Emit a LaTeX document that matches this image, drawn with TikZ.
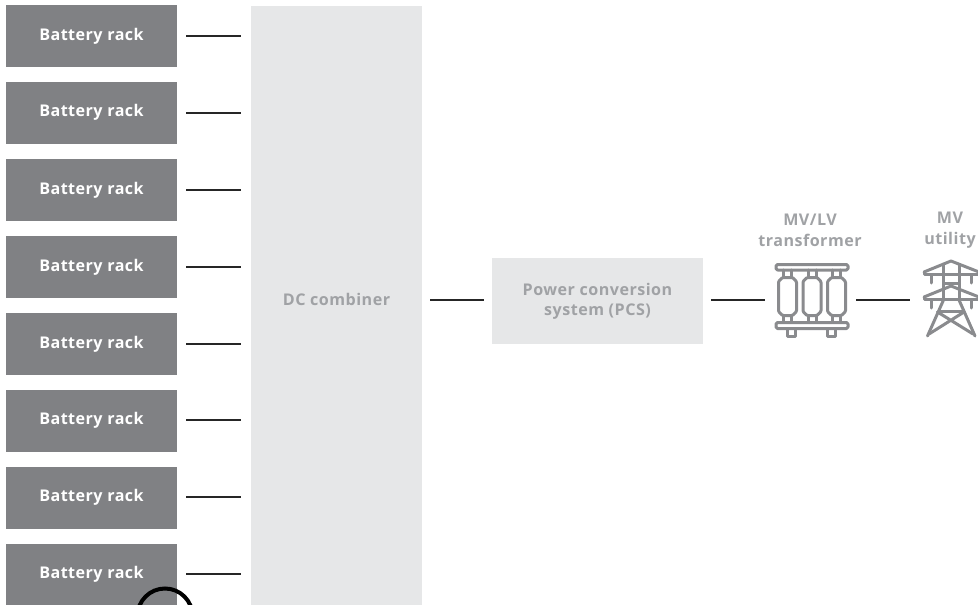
\documentclass[tikz,border=0pt]{standalone}
\usepackage{fontspec}
\setmainfont[LetterSpace=3]{Open Sans}
\definecolor{rackgray}{HTML}{808184}
\definecolor{pale}{HTML}{E6E7E8}
\definecolor{labelgray}{HTML}{A0A2A5}
\definecolor{icongray}{HTML}{8A8B8E}
\tikzset{
  rackbox/.style={fill=rackgray,text=white,minimum width=171pt,minimum height=62pt,inner sep=0pt,font=\fontsize{16.1}{17}\selectfont\bfseries},
  palebox/.style={fill=pale,text=labelgray,inner sep=0pt,align=center,font=\fontsize{16.1}{20}\selectfont\bfseries},
  conn/.style={draw=black!85,line width=2pt},
  lbl/.style={text=labelgray,inner sep=0pt,align=center,font=\fontsize{16.1}{21}\selectfont\bfseries},
  ico/.style={draw=icongray,line width=3pt,line join=round,line cap=round}
}
\begin{document}
\begin{tikzpicture}[x=1pt,y=-1pt]
\useasboundingbox (0,0) rectangle (978,605);
\clip (0,0) rectangle (978,605);
\foreach \n/\y/\t in {1/36/-2,2/112.5/-4,3/190/-2,4/267/-1,5/344/-1,6/420.5/-2,7/497.5/-2,8/574.5/-1}
  \node[rackbox] (r\n) at (91.5,\y) {\raisebox{\t pt}{Battery rack}};
\node[palebox,minimum width=171pt,minimum height=599pt] (dc) at (336.5,305.5) {\raisebox{12pt}{DC combiner}};
\node[palebox,minimum width=211pt,minimum height=86pt] (pcs) at (597.5,301) {Power conversion\\system (PCS)};
\foreach \n/\d in {1/0,2/0.5,3/0,4/0,5/0,6/-0.5,7/-0.5,8/-0.5}
  \draw[conn,shorten <=9pt,shorten >=10pt] ([yshift=-\d pt]r\n.east) -- ([yshift=-\d pt]r\n.east -| dc.west);
\coordinate (dcout) at (dc.east |- 0,300);
\coordinate (pcsin) at (pcs.west |- 0,300);
\draw[conn,shorten <=8pt,shorten >=8pt] (dcout) -- (pcsin);
\node[lbl] (tlabel) at (810,230.5) {MV/LV\\transformer};
\node[lbl] (ulabel) at (950,230.5) {MV\\utility};
\coordinate (pcsout) at (pcs.east |- 0,300);
\coordinate (tin) at (765,300);
\coordinate (tout) at (856,300);
\coordinate (uin) at (910,300);
\draw[conn,shorten <=8pt] (pcsout) -- (tin);
\draw[conn] (tout) -- (uin);
% transformer icon
\begin{scope}[ico]
  \draw[rounded corners=1.5pt] (776,264.5) rectangle (848,270);
  \draw[rounded corners=1.5pt] (776,322.5) rectangle (848,328.5);
  \draw (787,329) -- (787,336) -- (795,336) -- (795,329);
  \draw (827,329) -- (827,336) -- (835,336) -- (835,329);
  \foreach \x in {778.5,803,827.5}{
    \draw[rounded corners=1pt] (\x+4,277.5) -- (\x+14,277.5) -- (\x+18,281.5) -- (\x+18,311.5) -- (\x+14,315.5) -- (\x+4,315.5) -- (\x,311.5) -- (\x,281.5) -- cycle;
    \draw (\x+5,270) -- (\x+5,277) (\x+13,270) -- (\x+13,277);
    \draw (\x+5,316) -- (\x+5,322) (\x+13,316) -- (\x+13,322);
  }
\end{scope}
% pylon icon
\begin{scope}[ico]
  \draw (924,272) -- (951,261) -- (979,272);
  \draw (924,272) -- (924,274.5) -- (979,274.5);
  \draw (924,297) -- (951,286) -- (979,297);
  \draw (924,297) -- (924,299.5) -- (979,299.5);
  \draw (943.5,265) -- (943.5,299.5) (959,265) -- (959,299.5);
  \draw (931,275) -- (931,283) (971,275) -- (971,283);
  \draw (931,300) -- (931,308) (971,300) -- (971,308);
  \draw (943.5,283) -- (959,283);
  \draw (943.5,300) -- (927.5,336) (959,300) -- (975,336);
  \draw (938.5,311) -- (963.5,311);
  \draw (937.5,312) -- (973,334) (964,312) -- (929,334);
\end{scope}
\draw[black,line width=4pt] (165,616) circle (27.5pt);
\end{tikzpicture}
\end{document}
